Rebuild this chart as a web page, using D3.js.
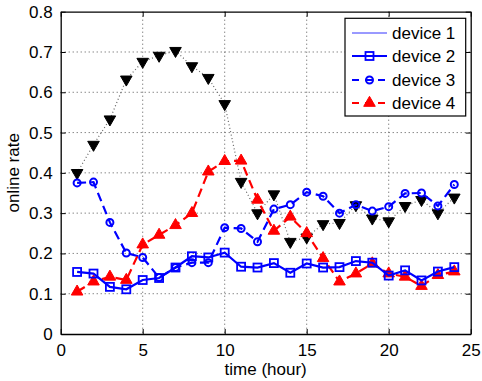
<!DOCTYPE html>
<html>
<head>
<meta charset="utf-8">
<script src="https://cdn.jsdelivr.net/npm/d3@7"></script>
<style>
  html, body { margin: 0; padding: 0; background: #fff; }
  svg { display: block; }
  text { font-family: "Liberation Sans", Arial, Helvetica, sans-serif; }
</style>
</head>
<body>
<svg id="chart" width="482" height="381"></svg>
<script>
// Hourly online rate per device
const hours = [1,2,3,4,5,6,7,8,9,10,11,12,13,14,15,16,17,18,19,20,21,22,23,24];
const overall = [0.40,0.47,0.533,0.632,0.676,0.691,0.703,0.665,0.636,0.571,0.378,0.30,0.347,0.229,0.24,0.273,0.276,0.32,0.287,0.28,0.318,0.333,0.30,0.339];
const device2 = [0.154,0.15,0.117,0.111,0.134,0.139,0.165,0.193,0.19,0.202,0.167,0.165,0.176,0.152,0.175,0.165,0.166,0.181,0.177,0.145,0.158,0.133,0.155,0.166];
const device3 = [0.375,0.377,0.277,0.201,0.19,0.14,0.165,0.177,0.177,0.264,0.262,0.229,0.31,0.321,0.352,0.342,0.30,0.321,0.305,0.316,0.349,0.35,0.318,0.371];
const device4 = [0.105,0.13,0.142,0.134,0.222,0.246,0.27,0.30,0.403,0.429,0.43,0.333,0.256,0.291,0.25,0.188,0.13,0.15,0.175,0.15,0.142,0.119,0.146,0.155];
const xTicks = [0,5,10,15,20,25];
const yTicks = [0,0.1,0.2,0.3,0.4,0.5,0.6,0.7,0.8];
const legendLabels = ["device 1","device 2","device 3","device 4"];

const svg = d3.select("#chart");
const L = 60.7, R = 470.7, T = 11.7, B = 334;
const x = d3.scaleLinear().domain([0,25]).range([L,R]);
const y = d3.scaleLinear().domain([0,0.8]).range([B,T]);
const fs = 17;

// dotted grid
const grid = svg.append("g");
grid.selectAll(".gx").data(xTicks.slice(1,-1)).join("line")
  .attr("x1", d => x(d)).attr("x2", d => x(d)).attr("y1", T).attr("y2", B)
  .attr("stroke", "#555").attr("stroke-width", 1).attr("stroke-dasharray", "1,3");
grid.selectAll(".gy").data(yTicks.slice(1,-1)).join("line")
  .attr("x1", L).attr("x2", R).attr("y1", d => y(d)).attr("y2", d => y(d))
  .attr("stroke", "#555").attr("stroke-width", 1).attr("stroke-dasharray", "1,3");

// axes with inward ticks on every side
const fmt = d3.format("");
svg.append("g").attr("transform", `translate(0,${B})`)
  .call(d3.axisBottom(x).tickValues(xTicks).tickSizeInner(-5).tickSizeOuter(0).tickPadding(10).tickFormat(fmt));
svg.append("g").attr("transform", `translate(${L},0)`)
  .call(d3.axisLeft(y).tickValues(yTicks).tickSizeInner(-5).tickSizeOuter(0).tickPadding(8).tickFormat(d => d === 0 ? "0" : d3.format(".1f")(d)));
svg.append("g").attr("transform", `translate(0,${T})`)
  .call(d3.axisTop(x).tickValues(xTicks).tickSizeInner(-5).tickSizeOuter(0).tickFormat(""));
svg.append("g").attr("transform", `translate(${R},0)`)
  .call(d3.axisRight(y).tickValues(yTicks).tickSizeInner(-5).tickSizeOuter(0).tickFormat(""));
svg.selectAll(".domain").attr("stroke", "#000").attr("stroke-width", 1.3);
svg.selectAll(".tick line").attr("stroke", "#000");
svg.selectAll(".tick text").attr("font-size", fs).attr("fill", "#000")
  .attr("font-family", "Liberation Sans, Arial, sans-serif");

// axis titles
svg.append("text").attr("x", (L+R)/2).attr("y", 375).attr("text-anchor", "middle")
  .attr("font-size", fs).text("time (hour)");
svg.append("text").attr("transform", `translate(19,${(T+B)/2}) rotate(-90)`)
  .attr("text-anchor", "middle").attr("font-size", fs).text("online rate");

const line = d3.line().x((d,i) => x(hours[i])).y(d => y(d));
const plot = svg.append("g");

const tri = d3.symbol().type(d3.symbolTriangle).size(58)();

// overall series: black dotted with downward triangles
plot.append("path").attr("d", line(overall)).attr("fill", "none")
  .attr("stroke", "#666").attr("stroke-width", 1.2).attr("stroke-dasharray", "1,2.5");
plot.selectAll(".m0").data(overall).join("path")
  .attr("d", tri).attr("transform", (d,i) => `translate(${x(hours[i])},${y(d)}) rotate(180)`)
  .attr("fill", "#000").attr("stroke", "#000").attr("stroke-width", 1);

// device 3: blue dashed with circles
plot.append("path").attr("d", line(device3)).attr("fill", "none")
  .attr("stroke", "#0000ff").attr("stroke-width", 2.2).attr("stroke-dasharray", "9,5");
plot.selectAll(".m3").data(device3).join("circle")
  .attr("cx", (d,i) => x(hours[i])).attr("cy", d => y(d)).attr("r", 3.5)
  .attr("fill", "none").attr("stroke", "#0000ff").attr("stroke-width", 2);

// device 4: red dashed with filled triangles
plot.append("path").attr("d", line(device4)).attr("fill", "none")
  .attr("stroke", "#ff0000").attr("stroke-width", 2.2).attr("stroke-dasharray", "9,5");
plot.selectAll(".m4").data(device4).join("path")
  .attr("d", tri).attr("transform", (d,i) => `translate(${x(hours[i])},${y(d)})`)
  .attr("fill", "#ff0000").attr("stroke", "#ff0000").attr("stroke-width", 1);

// device 2: blue solid with squares
plot.append("path").attr("d", line(device2)).attr("fill", "none")
  .attr("stroke", "#0000ff").attr("stroke-width", 2.2);
plot.selectAll(".m2").data(device2).join("rect")
  .attr("x", (d,i) => x(hours[i]) - 4).attr("y", d => y(d) - 4)
  .attr("width", 8).attr("height", 8)
  .attr("fill", "none").attr("stroke", "#0000ff").attr("stroke-width", 1.8);

// legend
const lg = svg.append("g");
lg.append("rect").attr("x", 345).attr("y", 18.3).attr("width", 120.7).attr("height", 97.7)
  .attr("fill", "#fff").attr("stroke", "#000").attr("stroke-width", 1.2);
const rows = [33, 56, 80, 103];
const lx1 = 352, lx2 = 387, lxm = (lx1 + lx2) / 2;
rows.forEach((ry, k) => {
  lg.append("text").attr("x", 392).attr("y", ry).attr("dy", "0.35em")
    .attr("font-size", fs).text(legendLabels[k]);
});
lg.append("line").attr("x1", lx1).attr("x2", lx2).attr("y1", rows[0]).attr("y2", rows[0])
  .attr("stroke", "#0000ff").attr("stroke-width", 0.8);
lg.append("line").attr("x1", lx1).attr("x2", lx2).attr("y1", rows[1]).attr("y2", rows[1])
  .attr("stroke", "#0000ff").attr("stroke-width", 2.2);
lg.append("rect").attr("x", lxm - 4).attr("y", rows[1] - 4).attr("width", 8).attr("height", 8)
  .attr("fill", "none").attr("stroke", "#0000ff").attr("stroke-width", 1.8);
lg.append("line").attr("x1", lx1).attr("x2", lx2).attr("y1", rows[2]).attr("y2", rows[2])
  .attr("stroke", "#0000ff").attr("stroke-width", 2.2).attr("stroke-dasharray", "7,6");
lg.append("circle").attr("cx", lxm).attr("cy", rows[2]).attr("r", 3.5)
  .attr("fill", "none").attr("stroke", "#0000ff").attr("stroke-width", 2);
lg.append("line").attr("x1", lx1).attr("x2", lx2).attr("y1", rows[3]).attr("y2", rows[3])
  .attr("stroke", "#ff0000").attr("stroke-width", 2.2).attr("stroke-dasharray", "7,6");
lg.append("path").attr("d", tri).attr("transform", `translate(${lxm},${rows[3]})`)
  .attr("fill", "#ff0000").attr("stroke", "#ff0000");
</script>
</body>
</html>
